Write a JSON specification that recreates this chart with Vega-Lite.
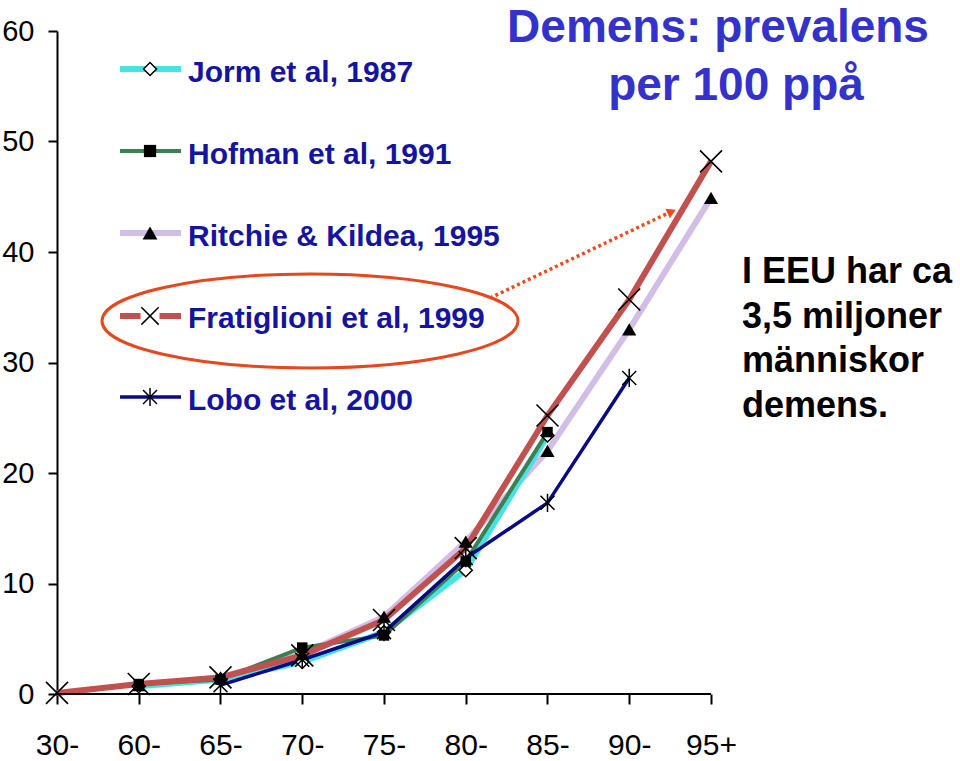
{
  "$schema": "https://vega.github.io/schema/vega-lite/v6.json",
  "autosize": "none",
  "width": 903,
  "height": 663,
  "padding": {"left": 57, "top": 31, "right": 0, "bottom": 67},
  "background": "white",
  "config": {"view": {"stroke": null}},
  "datasets": {
    "prev": [
      {"study": "Jorm et al, 1987", "g": 1, "age": "60-", "v": 0.7},
      {"study": "Jorm et al, 1987", "g": 2, "age": "65-", "v": 1.3},
      {"study": "Jorm et al, 1987", "g": 3, "age": "70-", "v": 2.9},
      {"study": "Jorm et al, 1987", "g": 4, "age": "75-", "v": 5.6},
      {"study": "Jorm et al, 1987", "g": 5, "age": "80-", "v": 11.2},
      {"study": "Jorm et al, 1987", "g": 6, "age": "85-", "v": 23.4},
      {"study": "Hofman et al, 1991", "g": 1, "age": "60-", "v": 0.9},
      {"study": "Hofman et al, 1991", "g": 2, "age": "65-", "v": 1.3},
      {"study": "Hofman et al, 1991", "g": 3, "age": "70-", "v": 4.2},
      {"study": "Hofman et al, 1991", "g": 4, "age": "75-", "v": 5.3},
      {"study": "Hofman et al, 1991", "g": 5, "age": "80-", "v": 12.0},
      {"study": "Hofman et al, 1991", "g": 6, "age": "85-", "v": 23.7},
      {"study": "Ritchie & Kildea, 1995", "g": 1, "age": "60-", "v": 0.8},
      {"study": "Ritchie & Kildea, 1995", "g": 2, "age": "65-", "v": 1.5},
      {"study": "Ritchie & Kildea, 1995", "g": 3, "age": "70-", "v": 3.6},
      {"study": "Ritchie & Kildea, 1995", "g": 4, "age": "75-", "v": 7.0},
      {"study": "Ritchie & Kildea, 1995", "g": 5, "age": "80-", "v": 13.8},
      {"study": "Ritchie & Kildea, 1995", "g": 6, "age": "85-", "v": 22.0},
      {"study": "Ritchie & Kildea, 1995", "g": 7, "age": "90-", "v": 33.0},
      {"study": "Ritchie & Kildea, 1995", "g": 8, "age": "95+", "v": 44.9},
      {"study": "Fratiglioni et al, 1999", "g": 0, "age": "30-", "v": 0.1},
      {"study": "Fratiglioni et al, 1999", "g": 1, "age": "60-", "v": 0.9},
      {"study": "Fratiglioni et al, 1999", "g": 2, "age": "65-", "v": 1.5},
      {"study": "Fratiglioni et al, 1999", "g": 3, "age": "70-", "v": 3.5},
      {"study": "Fratiglioni et al, 1999", "g": 4, "age": "75-", "v": 6.7},
      {"study": "Fratiglioni et al, 1999", "g": 5, "age": "80-", "v": 13.2},
      {"study": "Fratiglioni et al, 1999", "g": 6, "age": "85-", "v": 25.2},
      {"study": "Fratiglioni et al, 1999", "g": 7, "age": "90-", "v": 35.7},
      {"study": "Fratiglioni et al, 1999", "g": 8, "age": "95+", "v": 48.2},
      {"study": "Lobo et al, 2000", "g": 2, "age": "65-", "v": 0.8},
      {"study": "Lobo et al, 2000", "g": 3, "age": "70-", "v": 3.1},
      {"study": "Lobo et al, 2000", "g": 4, "age": "75-", "v": 5.6},
      {"study": "Lobo et al, 2000", "g": 5, "age": "80-", "v": 12.3},
      {"study": "Lobo et al, 2000", "g": 6, "age": "85-", "v": 17.3},
      {"study": "Lobo et al, 2000", "g": 7, "age": "90-", "v": 28.6}
    ],
    "one": [{}]
  },
  "layer": [
    {
      "data": {"name": "prev"},
      "transform": [{"filter": "datum.study === 'Ritchie & Kildea, 1995'"}],
      "mark": {"type": "line", "color": "#d1bde6", "strokeWidth": 6},
      "encoding": {
        "x": {"field": "g", "type": "quantitative", "scale": {"domain": [0, 11.046], "nice": false, "zero": false},
          "axis": {"values": [0, 1, 2, 3, 4, 5, 6, 7, 8], "labelExpr": "['30-','60-','65-','70-','75-','80-','85-','90-','95+'][datum.value]", "domain": false, "grid": false, "tickSize": 10, "tickWidth": 2, "tickColor": "black", "labelFont": "Liberation Sans", "labelFontSize": 30, "labelColor": "black", "labelPadding": 26, "labelAngle": 0, "title": null, "labelFlush": false, "labelOverlap": false}},
        "y": {"field": "v", "type": "quantitative", "scale": {"domain": [0, 60], "nice": false},
          "axis": {"values": [0, 10, 20, 30, 40, 50, 60], "domainColor": "black", "domainWidth": 2, "tickSize": 9, "tickWidth": 2, "tickColor": "black", "labelFont": "Liberation Sans", "labelFontSize": 29, "labelColor": "black", "labelPadding": 14, "grid": false, "title": null}}
      }
    },
    {
      "data": {"name": "prev"},
      "transform": [{"filter": "datum.study === 'Jorm et al, 1987'"}],
      "mark": {"type": "line", "color": "#45e3e3", "strokeWidth": 6},
      "encoding": {"x": {"field": "g", "type": "quantitative"}, "y": {"field": "v", "type": "quantitative"}}
    },
    {
      "data": {"name": "prev"},
      "transform": [{"filter": "datum.study === 'Hofman et al, 1991'"}],
      "mark": {"type": "line", "color": "#3d7f52", "strokeWidth": 4},
      "encoding": {"x": {"field": "g", "type": "quantitative"}, "y": {"field": "v", "type": "quantitative"}}
    },
    {
      "data": {"name": "prev"},
      "transform": [{"filter": "datum.study === 'Fratiglioni et al, 1999'"}],
      "mark": {"type": "line", "color": "#c1514f", "strokeWidth": 6},
      "encoding": {"x": {"field": "g", "type": "quantitative"}, "y": {"field": "v", "type": "quantitative"}}
    },
    {
      "data": {"name": "prev"},
      "transform": [{"filter": "datum.study === 'Lobo et al, 2000'"}],
      "mark": {"type": "line", "color": "#0a0a85", "strokeWidth": 3.5},
      "encoding": {"x": {"field": "g", "type": "quantitative"}, "y": {"field": "v", "type": "quantitative"}}
    },
    {
      "data": {"name": "prev"},
      "transform": [{"filter": "datum.study === 'Jorm et al, 1987'"}],
      "mark": {"type": "point", "shape": "diamond", "filled": true, "fill": "white", "stroke": "black", "strokeWidth": 1.5, "size": 169, "opacity": 1},
      "encoding": {"x": {"field": "g", "type": "quantitative"}, "y": {"field": "v", "type": "quantitative"}}
    },
    {
      "data": {"name": "prev"},
      "transform": [{"filter": "datum.study === 'Hofman et al, 1991'"}],
      "mark": {"type": "point", "shape": "square", "filled": true, "color": "black", "size": 110, "opacity": 1},
      "encoding": {"x": {"field": "g", "type": "quantitative"}, "y": {"field": "v", "type": "quantitative"}}
    },
    {
      "data": {"name": "prev"},
      "transform": [{"filter": "datum.study === 'Ritchie & Kildea, 1995'"}],
      "mark": {"type": "point", "shape": "triangle-up", "filled": true, "color": "black", "size": 200, "opacity": 1},
      "encoding": {"x": {"field": "g", "type": "quantitative"}, "y": {"field": "v", "type": "quantitative"}}
    },
    {
      "data": {"name": "prev"},
      "transform": [{"filter": "datum.study === 'Fratiglioni et al, 1999'"}],
      "mark": {"type": "point", "shape": "M-1,-1L1,1M-1,1L1,-1", "filled": false, "stroke": "black", "strokeWidth": 1.6, "size": 484, "opacity": 1},
      "encoding": {"x": {"field": "g", "type": "quantitative"}, "y": {"field": "v", "type": "quantitative"}}
    },
    {
      "data": {"name": "prev"},
      "transform": [{"filter": "datum.study === 'Lobo et al, 2000'"}],
      "mark": {"type": "point", "shape": "M-1,-1L1,1M-1,1L1,-1M0,-1.3L0,1.3", "filled": false, "stroke": "black", "strokeWidth": 1.5, "size": 196, "opacity": 1},
      "encoding": {"x": {"field": "g", "type": "quantitative"}, "y": {"field": "v", "type": "quantitative"}}
    },
    {
      "data": {"name": "one"},
      "mark": {"type": "rule", "color": "black", "strokeWidth": 2},
      "encoding": {"x": {"datum": 0, "type": "quantitative"}, "x2": {"datum": 8}, "y": {"datum": 0, "type": "quantitative"}}
    },
    {
      "data": {"name": "one"},
      "mark": {"type": "rule", "color": "#45e3e3", "strokeWidth": 6},
      "encoding": {"x": {"datum": 0.771, "type": "quantitative"}, "x2": {"datum": 1.517}, "y": {"datum": 56.56, "type": "quantitative"}}
    },
    {
      "data": {"name": "one"},
      "mark": {"type": "rule", "color": "#3d7f52", "strokeWidth": 4},
      "encoding": {"x": {"datum": 0.771, "type": "quantitative"}, "x2": {"datum": 1.517}, "y": {"datum": 49.14, "type": "quantitative"}}
    },
    {
      "data": {"name": "one"},
      "mark": {"type": "rule", "color": "#d1bde6", "strokeWidth": 6},
      "encoding": {"x": {"datum": 0.771, "type": "quantitative"}, "x2": {"datum": 1.517}, "y": {"datum": 41.72, "type": "quantitative"}}
    },
    {
      "data": {"name": "one"},
      "mark": {"type": "rule", "color": "#c1514f", "strokeWidth": 6},
      "encoding": {"x": {"datum": 0.771, "type": "quantitative"}, "x2": {"datum": 1.517}, "y": {"datum": 34.21, "type": "quantitative"}}
    },
    {
      "data": {"name": "one"},
      "mark": {"type": "rule", "color": "#0a0a85", "strokeWidth": 3.5},
      "encoding": {"x": {"datum": 0.771, "type": "quantitative"}, "x2": {"datum": 1.517}, "y": {"datum": 26.88, "type": "quantitative"}}
    },
    {
      "data": {"name": "one"},
      "mark": {"type": "point", "shape": "diamond", "filled": true, "fill": "white", "stroke": "black", "strokeWidth": 1.5, "size": 169, "opacity": 1},
      "encoding": {"x": {"datum": 1.138, "type": "quantitative"}, "y": {"datum": 56.56, "type": "quantitative"}}
    },
    {
      "data": {"name": "one"},
      "mark": {"type": "point", "shape": "square", "filled": true, "color": "black", "size": 150, "opacity": 1},
      "encoding": {"x": {"datum": 1.138, "type": "quantitative"}, "y": {"datum": 49.14, "type": "quantitative"}}
    },
    {
      "data": {"name": "one"},
      "mark": {"type": "point", "shape": "triangle-up", "filled": true, "color": "black", "size": 220, "opacity": 1},
      "encoding": {"x": {"datum": 1.138, "type": "quantitative"}, "y": {"datum": 41.72, "type": "quantitative"}}
    },
    {
      "data": {"name": "one"},
      "mark": {"type": "point", "shape": "square", "filled": true, "color": "white", "size": 360, "opacity": 1},
      "encoding": {"x": {"datum": 1.138, "type": "quantitative"}, "y": {"datum": 34.21, "type": "quantitative"}}
    },
    {
      "data": {"name": "one"},
      "mark": {"type": "point", "shape": "M-1,-1L1,1M-1,1L1,-1", "filled": false, "stroke": "black", "strokeWidth": 1.5, "size": 300, "opacity": 1},
      "encoding": {"x": {"datum": 1.138, "type": "quantitative"}, "y": {"datum": 34.21, "type": "quantitative"}}
    },
    {
      "data": {"name": "one"},
      "mark": {"type": "point", "shape": "M-1,-1L1,1M-1,1L1,-1M0,-1.3L0,1.3", "filled": false, "stroke": "black", "strokeWidth": 1.5, "size": 196, "opacity": 1},
      "encoding": {"x": {"datum": 1.138, "type": "quantitative"}, "y": {"datum": 26.88, "type": "quantitative"}}
    },
    {
      "data": {"name": "one"},
      "mark": {"type": "text", "align": "left", "baseline": "alphabetic", "font": "Liberation Sans", "fontWeight": "bold", "fontSize": 30, "color": "#1414a0", "lineHeight": 82},
      "encoding": {"x": {"datum": 1.602, "type": "quantitative"}, "y": {"datum": 55.38, "type": "quantitative"},
        "text": {"value": ["Jorm et al, 1987", "Hofman et al, 1991", "Ritchie & Kildea, 1995", "Fratiglioni et al, 1999", "Lobo et al, 2000"]}}
    },
    {
      "data": {"name": "one"},
      "mark": {"type": "point", "shape": "M-1,0C-1,-0.1248 -0.5523,-0.226 0,-0.226C0.5523,-0.226 1,-0.1248 1,0C1,0.1248 0.5523,0.226 0,0.226C-0.5523,0.226 -1,0.1248 -1,0Z", "filled": false, "stroke": "#e5481e", "strokeWidth": 3, "size": 173056, "opacity": 1},
      "encoding": {"x": {"datum": 3.095, "type": "quantitative"}, "y": {"datum": 33.76, "type": "quantitative"}}
    },
    {
      "data": {"name": "one"},
      "mark": {"type": "rule", "color": "#f24a1c", "strokeWidth": 3.5, "strokeDash": [3, 3]},
      "encoding": {"x": {"datum": 5.297, "type": "quantitative"}, "x2": {"datum": 7.47}, "y": {"datum": 35.84, "type": "quantitative"}, "y2": {"datum": 43.5}}
    },
    {
      "data": {"name": "one"},
      "mark": {"type": "point", "shape": "triangle-right", "filled": true, "color": "#f24a1c", "size": 110, "angle": -25, "opacity": 1},
      "encoding": {"x": {"datum": 7.52, "type": "quantitative"}, "y": {"datum": 43.65, "type": "quantitative"}}
    },
    {
      "data": {"name": "one"},
      "mark": {"type": "text", "align": "center", "baseline": "alphabetic", "font": "Liberation Sans", "fontWeight": "bold", "fontSize": 46, "color": "#3333cc"},
      "encoding": {"x": {"datum": 8.086, "type": "quantitative"}, "y": {"datum": 59.0, "type": "quantitative"}, "text": {"value": "Demens: prevalens"}}
    },
    {
      "data": {"name": "one"},
      "mark": {"type": "text", "align": "center", "baseline": "alphabetic", "font": "Liberation Sans", "fontWeight": "bold", "fontSize": 46, "color": "#3333cc"},
      "encoding": {"x": {"datum": 8.306, "type": "quantitative"}, "y": {"datum": 53.76, "type": "quantitative"}, "text": {"value": "per 100 ppå"}}
    },
    {
      "data": {"name": "one"},
      "mark": {"type": "text", "align": "left", "baseline": "alphabetic", "font": "Liberation Sans", "fontWeight": "bold", "fontSize": 36, "color": "black", "lineHeight": 44.5},
      "encoding": {"x": {"datum": 8.379, "type": "quantitative"}, "y": {"datum": 37.19, "type": "quantitative"},
        "text": {"value": ["I EEU har ca", "3,5 miljoner", "människor", "demens."]}}
    }
  ]
}
